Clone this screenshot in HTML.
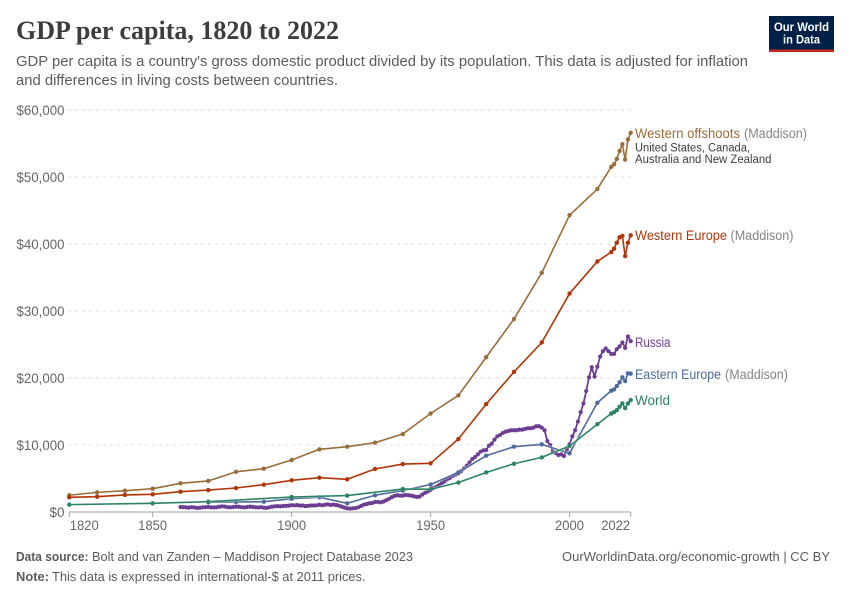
<!DOCTYPE html>
<html lang="en">
<head>
<meta charset="utf-8">
<title>GDP per capita, 1820 to 2022</title>
<style>
  html, body { margin: 0; padding: 0; background: #fff; }
  body { width: 850px; height: 600px; overflow: hidden; font-family: "Liberation Sans", sans-serif; }
  svg { display: block; }
  text { font-family: "Liberation Sans", sans-serif; }
</style>
</head>
<body>
<svg id="chart" xmlns="http://www.w3.org/2000/svg" width="850" height="600" viewBox="0 0 850 600">
  <rect x="0" y="0" width="850" height="600" fill="#fff"/>

  <text x="16" y="39" font-size="26" font-weight="700" fill="#3d3d3d" style="font-family:'Liberation Serif',serif" textLength="323" lengthAdjust="spacingAndGlyphs">GDP per capita, 1820 to 2022</text>
  <text x="16" y="66" font-size="15" fill="#5b5b5b" textLength="732" lengthAdjust="spacingAndGlyphs">GDP per capita is a country's gross domestic product divided by its population. This data is adjusted for inflation</text>
  <text x="16" y="85" font-size="15" fill="#5b5b5b" textLength="322" lengthAdjust="spacingAndGlyphs">and differences in living costs between countries.</text>

  <g>
    <rect x="769" y="16" width="65" height="36" fill="#002147"/>
    <rect x="769" y="49.5" width="65" height="2.5" fill="#ce261e"/>
    <text x="801.5" y="31" font-size="12" font-weight="700" fill="#fff" text-anchor="middle" textLength="55" lengthAdjust="spacingAndGlyphs">Our World</text>
    <text x="801.5" y="43.5" font-size="12" font-weight="700" fill="#fff" text-anchor="middle" textLength="37" lengthAdjust="spacingAndGlyphs">in Data</text>
  </g>

  <g id="grid"></g>
  <g id="axis"></g>
  <g id="series"></g>

  <g>
    <text x="635" y="138" font-size="13.5" fill="#996d39" textLength="105" lengthAdjust="spacingAndGlyphs">Western offshoots</text>
    <text x="744" y="138" font-size="13.5" fill="#858585" textLength="63" lengthAdjust="spacingAndGlyphs">(Maddison)</text>
    <text x="635" y="151.5" font-size="11.5" fill="#3d3d3d" textLength="115" lengthAdjust="spacingAndGlyphs">United States, Canada,</text>
    <text x="635" y="163" font-size="11.5" fill="#3d3d3d" textLength="136.5" lengthAdjust="spacingAndGlyphs">Australia and New Zealand</text>
  </g>
  <g>
    <text x="635" y="240" font-size="13.5" fill="#b13507" textLength="92" lengthAdjust="spacingAndGlyphs">Western Europe</text>
    <text x="730.5" y="240" font-size="13.5" fill="#858585" textLength="63" lengthAdjust="spacingAndGlyphs">(Maddison)</text>
  </g>
  <text x="635" y="347" font-size="13.5" fill="#6d3e91" textLength="35.5" lengthAdjust="spacingAndGlyphs">Russia</text>
  <g>
    <text x="635" y="379" font-size="13.5" fill="#4c6a9c" textLength="86" lengthAdjust="spacingAndGlyphs">Eastern Europe</text>
    <text x="725" y="379" font-size="13.5" fill="#858585" textLength="63" lengthAdjust="spacingAndGlyphs">(Maddison)</text>
  </g>
  <text x="635" y="405" font-size="13.5" fill="#2c8465" textLength="35" lengthAdjust="spacingAndGlyphs">World</text>

  <g>
    <text x="16" y="561" font-size="13" font-weight="700" fill="#5b5b5b" textLength="72.5" lengthAdjust="spacingAndGlyphs">Data source:</text>
    <text x="92" y="561" font-size="13" fill="#5b5b5b" textLength="321" lengthAdjust="spacingAndGlyphs">Bolt and van Zanden – Maddison Project Database 2023</text>
    <text x="562" y="561" font-size="13" fill="#5b5b5b" textLength="268" lengthAdjust="spacingAndGlyphs">OurWorldinData.org/economic-growth | CC BY</text>
    <text x="16" y="581" font-size="13" font-weight="700" fill="#5b5b5b" textLength="33" lengthAdjust="spacingAndGlyphs">Note:</text>
    <text x="52" y="581" font-size="13" fill="#5b5b5b" textLength="313.5" lengthAdjust="spacingAndGlyphs">This data is expressed in international-$ at 2011 prices.</text>
  </g>
</svg>
<script>
const yTickValues = [0, 10000, 20000, 30000, 40000, 50000, 60000];
const yTickLabels = ["$0", "$10,000", "$20,000", "$30,000", "$40,000", "$50,000", "$60,000"];
const xTickYears = [1820, 1850, 1900, 1950, 2000, 2022];
const xTickLabels = ["1820", "1850", "1900", "1950", "2000", "2022"];

const offshootsYears = [1820,1830,1840,1850,1860,1870,1880,1890,1900,1910,1920,1930,1940,1950,1960,1970,1980,1990,2000,2010,2015,2016,2017,2018,2019,2020,2021,2022];
const offshootsValues = [2500,2930,3180,3480,4280,4630,6000,6470,7760,9360,9750,10350,11640,14700,17400,23100,28800,35700,44300,48200,51500,51900,52700,53900,54900,52600,55600,56600];

const westernEuropeYears = [1820,1830,1840,1850,1860,1870,1880,1890,1900,1910,1920,1930,1940,1950,1960,1970,1980,1990,2000,2010,2015,2016,2017,2018,2019,2020,2021,2022];
const westernEuropeValues = [2190,2290,2540,2640,3030,3280,3580,4080,4730,5120,4880,6420,7160,7270,10900,16100,20900,25300,32600,37400,38800,39300,40200,41000,41200,38200,40200,41300];

const russiaStartYear = 1860;
const russiaValues = [
  750,720,700,650,720,680,620,630,700,720,
  750,700,680,700,780,850,800,720,700,750,
  800,780,720,680,750,800,770,700,680,720,
  650,620,700,800,850,880,850,900,920,950,
  1020,1000,1030,950,970,880,920,980,970,1000,
  1080,1000,1080,1150,1050,1100,1050,950,800,650,
  550,500,550,600,700,900,1100,1200,1300,1350,
  1500,1500,1450,1550,1750,1950,2200,2400,2500,2450,
  2450,2550,2500,2450,2350,2250,2300,2600,2850,3050,
  3300,3550,3750,4000,4300,4550,4900,5100,5400,5600,
  5800,6100,6500,6900,7400,7900,8200,8600,9000,9200,
  9250,9900,10200,10800,11300,11500,11800,12000,12100,12200,
  12200,12200,12300,12300,12400,12500,12500,12600,12800,12800,
  12600,12200,10600,10000,9000,8800,8500,8600,8350,9350,
  10100,11300,12200,13500,14900,16200,18050,20100,21600,20200,
  21700,23200,24000,24400,24000,23600,23600,24300,24700,25300,24500,26200,25500
];

const easternEuropeYears = [1870,1880,1890,1900,1910,1920,1930,1940,1950,1960,1970,1980,1990,2000,2010,2015,2016,2017,2018,2019,2020,2021,2022];
const easternEuropeValues = [1450,1500,1540,1980,2200,1300,2500,3200,4100,5900,8400,9750,10100,8750,16300,18100,18300,18800,19350,20100,19550,20700,20650];

const worldYears = [1820,1850,1870,1900,1920,1940,1950,1960,1970,1980,1990,2000,2010,2015,2016,2017,2018,2019,2020,2021,2022];
const worldValues = [1100,1300,1540,2240,2450,3430,3400,4400,5900,7200,8150,9850,13100,14700,14900,15200,15700,16200,15500,16200,16700];

const russiaYears = russiaValues.map(function (_, i) { return russiaStartYear + i; });

const NS = "http://www.w3.org/2000/svg";
const xMinYear = 1820, xMaxYear = 2022, xLeft = 69.3, xRight = 630.7;
const yBase = 512, yTop = 110, yMaxValue = 60000;

function xScale(year) {
  return xLeft + (year - xMinYear) * (xRight - xLeft) / (xMaxYear - xMinYear);
}
function yScale(value) {
  return yBase - value * (yBase - yTop) / yMaxValue;
}
function make(tag, attrs, parent) {
  const el = document.createElementNS(NS, tag);
  Object.keys(attrs).forEach(function (k) { el.setAttribute(k, attrs[k]); });
  parent.appendChild(el);
  return el;
}

const gridLayer = document.getElementById("grid");
const axisLayer = document.getElementById("axis");
const seriesLayer = document.getElementById("series");

yTickValues.forEach(function (v, i) {
  if (v > 0) {
    const line = make("line", {x1: 68, x2: xRight, y1: yScale(v), y2: yScale(v), stroke: "#dddddd", "stroke-width": 1, "stroke-dasharray": "3,4"}, gridLayer);
    
    
  }
  const label = make("text", {x: 64.5, y: yScale(v) + 5, "font-size": 13.5, fill: "#666666", "text-anchor": "end", textLength: v === 0 ? 15 : 48, lengthAdjust: "spacingAndGlyphs"}, gridLayer);
  label.textContent = yTickLabels[i];
  
  
});

const baseline = make("line", {x1: xLeft, x2: xRight, y1: yBase, y2: yBase, stroke: "#a1a1a1", "stroke-width": 1}, axisLayer);



xTickYears.forEach(function (year, i) {
  const x = xScale(year);
  const tick = make("line", {x1: x, x2: x, y1: yBase, y2: yBase + 5, stroke: "#a1a1a1", "stroke-width": 1}, axisLayer);
  
  
  let anchor = "middle", lx = x;
  if (i === 0) { anchor = "start"; lx = x + 0.5; }
  if (i === xTickYears.length - 1) { anchor = "end"; lx = x - 0.5; }
  const label = make("text", {x: lx, y: 530, "font-size": 13.5, fill: "#666666", "text-anchor": anchor, textLength: 29, lengthAdjust: "spacingAndGlyphs"}, axisLayer);
  label.textContent = xTickLabels[i];
  
  
});

function drawSeries(name, years, values, color, radius, width) {
  const group = make("g", {}, seriesLayer);
  
  
  const pts = years.map(function (yr, i) {
    return xScale(yr).toFixed(2) + "," + yScale(values[i]).toFixed(2);
  }).join(" ");
  const halo = make("polyline", {points: pts, fill: "none", stroke: "#ffffff", "stroke-width": width + 1.2, "stroke-opacity": 0.5, "stroke-linejoin": "round"}, group);
  
  
  const line = make("polyline", {points: pts, fill: "none", stroke: color, "stroke-width": width, "stroke-linejoin": "round"}, group);
  
  
  years.forEach(function (yr, i) {
    const dot = make("circle", {cx: xScale(yr), cy: yScale(values[i]), r: radius, fill: color}, group);
    
    
  });
}

drawSeries("series-western-offshoots", offshootsYears, offshootsValues, "#996d39", 2.2, 1.6);
drawSeries("series-western-europe", westernEuropeYears, westernEuropeValues, "#b13507", 2.2, 1.6);
drawSeries("series-russia", russiaYears, russiaValues, "#6d3e91", 2.1, 1.8);
drawSeries("series-eastern-europe", easternEuropeYears, easternEuropeValues, "#4c6a9c", 2.2, 1.6);
drawSeries("series-world", worldYears, worldValues, "#2c8465", 2.2, 1.6);
</script>
</body>
</html>
